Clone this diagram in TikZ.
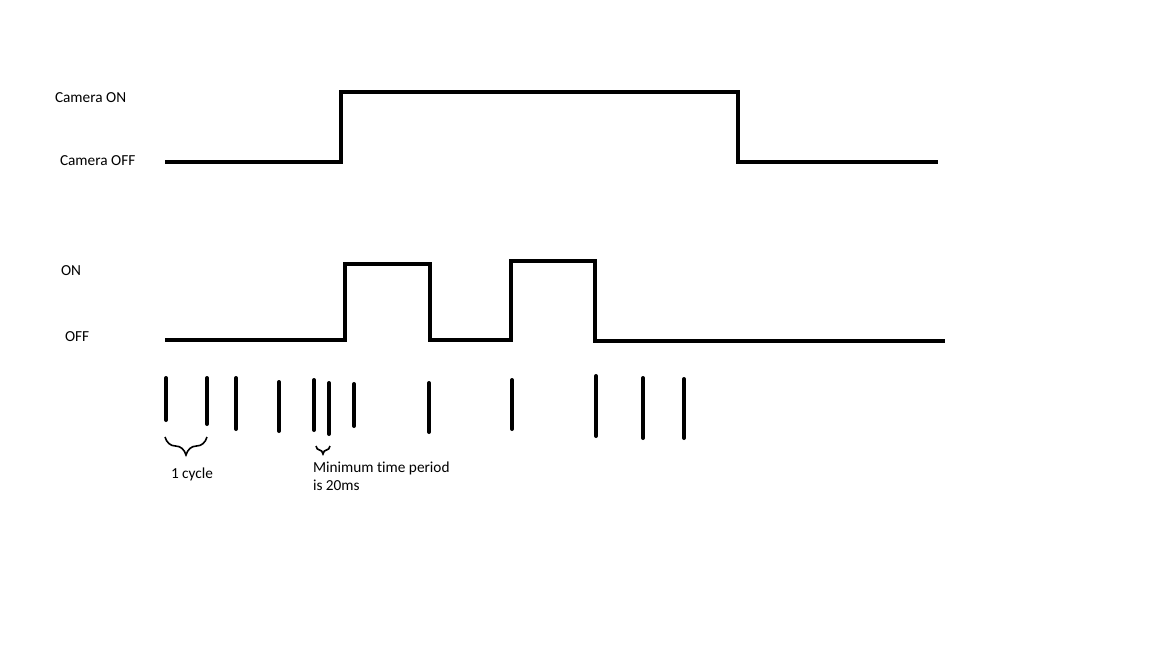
\documentclass[tikz,border=0pt]{standalone}
\usepackage{fontspec}
\setmainfont{Carlito}[Ligatures=NoCommon]
\usetikzlibrary{decorations.pathreplacing}

\tikzset{
	signal/.style={line width=4pt,line join=miter},
	tickmark/.style={line width=4pt,line cap=round},
	label/.style={inner sep=0,outer sep=0,font=\fontsize{15.3}{18}\selectfont},
	bracemark/.style={line width=1.6pt,decorate,decoration={brace,mirror,amplitude=#1}}
}

\begin{document}
\begin{tikzpicture}[x=1pt,y=-1pt]
	\useasboundingbox (0,0) rectangle (1152,648);
	% level labels
	\node[label,anchor=west] (camon) at (55,98) {Camera ON};
	\node[label,anchor=west] (camoff) at (60,161) {Camera OFF};
	\node[label,anchor=west] (on) at (61,271) {ON};
	\node[label,anchor=west] (off) at (65,337) {OFF};
	% camera signal
	\coordinate (c0) at (165,162);
	\coordinate (c1) at (341,162);
	\coordinate (c2) at (341,92);
	\coordinate (c3) at (738,92);
	\coordinate (c4) at (738,162);
	\coordinate (c5) at (938,162);
	\draw[signal] (c0) -- (c1) -- (c2) -- (c3) -- (c4) -- (c5);
	% on/off signal
	\coordinate (s0) at (165,340);
	\coordinate (s1) at (345,340);
	\coordinate (s2) at (345,264);
	\coordinate (s3) at (430,264);
	\coordinate (s4) at (430,340);
	\coordinate (s5) at (511,340);
	\coordinate (s6) at (511,261);
	\coordinate (s7) at (595,261);
	\coordinate (s8) at (595,341);
	\coordinate (s9) at (945,341);
	\draw[signal] (s0) -- (s1) -- (s2) -- (s3) -- (s4) -- (s5) -- (s6) -- (s7) -- (s8) -- (s9);
	% cycle ticks
	\foreach \x/\ya/\yb [count=\i] in {166/378/420,207/378/424,236/378/429,279/382/431,314/380/430,329/383/434,354/384/426,429/383/432,512/380/429,596/376/436,643/378/438,684/379/438}{
		\coordinate (t\i a) at (\x,\ya);
		\coordinate (t\i b) at (\x,\yb);
		\draw[tickmark] (t\i a) -- (t\i b);
	}
	% braces
	\coordinate (b1l) at (165,437);
	\coordinate (b1r) at (207,437);
	\draw[bracemark=18pt] (b1l) -- (b1r);
	\coordinate (b2l) at (316,446);
	\coordinate (b2r) at (330,446);
	\draw[bracemark=8pt] (b2l) -- (b2r);
	\node[label,anchor=west] (cycle) at (171,474) {1 cycle};
	\node[label,anchor=north west,align=left] (minperiod) at (313,462) {Minimum time period\\is 20ms};
\end{tikzpicture}
\end{document}
